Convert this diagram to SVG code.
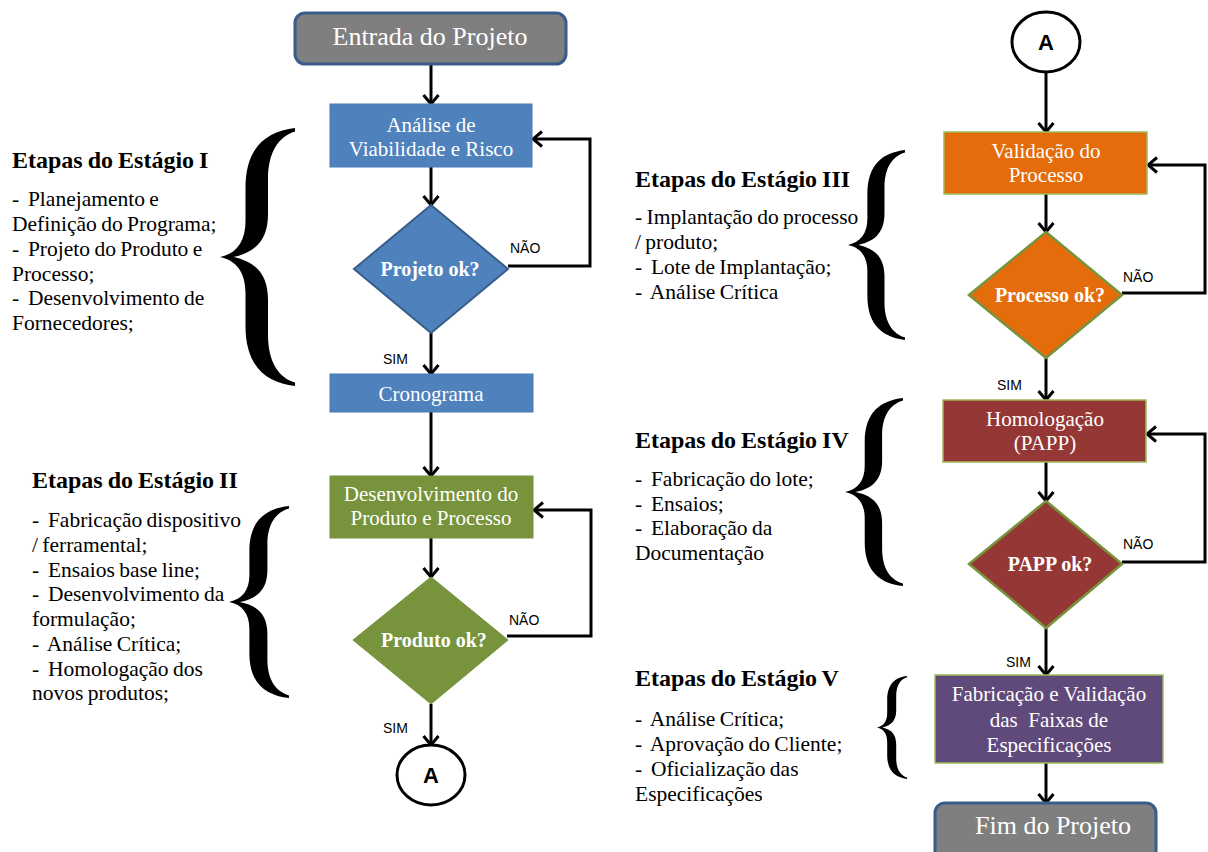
<svg xmlns="http://www.w3.org/2000/svg" width="1208" height="852" viewBox="0 0 1208 852">
  <defs>
    <style>
      .serif { font-family: "Liberation Serif", "Times New Roman", serif; }
      .sans { font-family: "Liberation Sans", Arial, sans-serif; }
      .boxtxt { font-family: "Liberation Serif", "Times New Roman", serif; font-size: 21px; fill: #ffffff; text-anchor: middle; }
      .dtxt { font-family: "Liberation Serif", "Times New Roman", serif; font-size: 20px; font-weight: bold; fill: #ffffff; text-anchor: middle; }
      .term { fill: #7f7f7f; stroke: #385d8a; stroke-width: 3; }
      .termtxt { font-family: "Liberation Serif", "Times New Roman", serif; font-size: 26px; fill: #ffffff; text-anchor: middle; }
      .blue { fill: #4f81bd; stroke: #4a7ab4; stroke-width: 1; }
      .bluedia { fill: #4f81bd; stroke: #385d8a; stroke-width: 2; }
      .green { fill: #77933c; stroke: #77933c; stroke-width: 1; }
      .orange { fill: #e46c0a; stroke: #9bbb59; stroke-width: 1.5; }
      .orangedia { fill: #e46c0a; stroke: #77933c; stroke-width: 2.5; }
      .red { fill: #953735; stroke: #9bbb59; stroke-width: 1.5; }
      .reddia { fill: #953735; stroke: #77933c; stroke-width: 2.5; }
      .purple { fill: #604a7b; stroke: #9bbb59; stroke-width: 1.5; }
      .conn { fill: #ffffff; stroke: #000000; stroke-width: 3; }
      .conntxt { font-family: "Liberation Sans", Arial, sans-serif; font-size: 22px; font-weight: bold; fill: #000000; text-anchor: middle; }
      .edge { fill: none; stroke: #000000; stroke-width: 3; }
      .lbl { font-family: "Liberation Sans", Arial, sans-serif; font-size: 14px; fill: #000000; }
      .title { font-family: "Liberation Serif", "Times New Roman", serif; font-size: 24px; font-weight: bold; fill: #000000; word-spacing: -1px; }
      .item { font-family: "Liberation Serif", "Times New Roman", serif; font-size: 21.5px; fill: #000000; word-spacing: -1px; }
      .brace { fill: #000000; }
    </style>
    <marker id="arrow" viewBox="0 0 12 18" refX="10.5" refY="9" markerWidth="12" markerHeight="18" markerUnits="userSpaceOnUse" orient="auto">
      <path d="M1.5,1.5 L10.5,9 L1.5,16.5" fill="none" stroke="#000000" stroke-width="3"/>
    </marker>
    <!-- curly brace outline, 100 x 300 unit box, point at the left middle -->
    <path id="bracePath" d="M100,0 C62,4 34,22 34,70 L34,108 C34,132 22,146 0,150 C22,154 34,168 34,192 L34,230 C34,278 62,296 100,300 L100,296 C78,290 64,272 64,240 L64,200 C64,172 50,156 18,150 C50,144 64,128 64,100 L64,60 C64,28 78,10 100,4 Z"/>
  </defs>

  <!-- connectors -->
  <g id="connectors">
    <line class="edge" x1="431" y1="64" x2="431" y2="104" marker-end="url(#arrow)"/>
    <line class="edge" x1="431" y1="167" x2="431" y2="205" marker-end="url(#arrow)"/>
    <polyline class="edge" points="508,266 590,266 590,139 533,139" marker-end="url(#arrow)"/>
    <line class="edge" x1="431" y1="333" x2="431" y2="374" marker-end="url(#arrow)"/>
    <line class="edge" x1="431" y1="412" x2="431" y2="476" marker-end="url(#arrow)"/>
    <line class="edge" x1="431" y1="538" x2="431" y2="577" marker-end="url(#arrow)"/>
    <polyline class="edge" points="507,636 591,636 591,510 534,510" marker-end="url(#arrow)"/>
    <line class="edge" x1="431" y1="704" x2="431" y2="745" marker-end="url(#arrow)"/>

    <line class="edge" x1="1046" y1="72" x2="1046" y2="132" marker-end="url(#arrow)"/>
    <line class="edge" x1="1046" y1="194" x2="1046" y2="232" marker-end="url(#arrow)"/>
    <polyline class="edge" points="1122,293 1205,293 1205,165 1148,165" marker-end="url(#arrow)"/>
    <line class="edge" x1="1046" y1="358" x2="1046" y2="400" marker-end="url(#arrow)"/>
    <line class="edge" x1="1046" y1="462" x2="1046" y2="501" marker-end="url(#arrow)"/>
    <polyline class="edge" points="1122,562 1205,562 1205,434 1147,434" marker-end="url(#arrow)"/>
    <line class="edge" x1="1046" y1="628" x2="1046" y2="675" marker-end="url(#arrow)"/>
    <line class="edge" x1="1046" y1="763" x2="1046" y2="803" marker-end="url(#arrow)"/>

    <text class="lbl" x="510" y="253">NÃO</text>
    <text class="lbl" x="383" y="364">SIM</text>
    <text class="lbl" x="509" y="625">NÃO</text>
    <text class="lbl" x="383" y="733">SIM</text>
    <text class="lbl" x="1123" y="282">NÃO</text>
    <text class="lbl" x="997" y="390">SIM</text>
    <text class="lbl" x="1123" y="549">NÃO</text>
    <text class="lbl" x="1006" y="667">SIM</text>
  </g>

  <!-- left column -->
  <g id="entrada">
    <rect class="term" x="295" y="13" width="271" height="51" rx="10"/>
    <text class="termtxt" x="430" y="45">Entrada do Projeto</text>
  </g>
  <g id="analise">
    <rect class="blue" x="330" y="104" width="202" height="63"/>
    <text class="boxtxt" x="431" y="132">Análise de</text>
    <text class="boxtxt" x="431" y="156">Viabilidade e Risco</text>
  </g>
  <g id="projeto-ok">
    <polygon class="bluedia" points="431,205 508,269 431,333 354,269"/>
    <text class="dtxt" x="430" y="276">Projeto ok?</text>
  </g>
  <g id="cronograma">
    <rect class="blue" x="330" y="374" width="203" height="38"/>
    <text class="boxtxt" x="431" y="401">Cronograma</text>
  </g>
  <g id="desenvolvimento">
    <rect class="green" x="330" y="476" width="203" height="62"/>
    <text class="boxtxt" x="431" y="501">Desenvolvimento do</text>
    <text class="boxtxt" x="431" y="525">Produto e Processo</text>
  </g>
  <g id="produto-ok">
    <polygon class="green" points="431,577 508,640 431,704 353,640"/>
    <text class="dtxt" x="434" y="647">Produto ok?</text>
  </g>
  <g id="conector-a-saida">
    <ellipse class="conn" cx="431" cy="775" rx="34" ry="30"/>
    <text class="conntxt" x="431" y="783">A</text>
  </g>

  <!-- right column -->
  <g id="conector-a-entrada">
    <ellipse class="conn" cx="1046" cy="42" rx="34" ry="30"/>
    <text class="conntxt" x="1046" y="50">A</text>
  </g>
  <g id="validacao">
    <rect class="orange" x="944" y="132" width="203" height="62"/>
    <text class="boxtxt" x="1046" y="158">Validação do</text>
    <text class="boxtxt" x="1046" y="182">Processo</text>
  </g>
  <g id="processo-ok">
    <polygon class="orangedia" points="1046,232 1122,295 1046,358 969,295"/>
    <text class="dtxt" x="1050" y="302">Processo ok?</text>
  </g>
  <g id="homologacao">
    <rect class="red" x="943" y="400" width="203" height="62"/>
    <text class="boxtxt" x="1045" y="426">Homologação</text>
    <text class="boxtxt" x="1045" y="450">(PAPP)</text>
  </g>
  <g id="papp-ok">
    <polygon class="reddia" points="1046,501 1122,564 1046,628 969,564"/>
    <text class="dtxt" x="1050" y="571">PAPP ok?</text>
  </g>
  <g id="fabricacao">
    <rect class="purple" x="935" y="675" width="228" height="88"/>
    <text class="boxtxt" x="1049" y="701">Fabricação e Validação</text>
    <text class="boxtxt" x="1049" y="727" xml:space="preserve">das  Faixas de</text>
    <text class="boxtxt" x="1049" y="752">Especificações</text>
  </g>
  <g id="fim">
    <rect class="term" x="935" y="803" width="221" height="60" rx="10"/>
    <text class="termtxt" x="1053" y="834">Fim do Projeto</text>
  </g>

  <!-- stage notes with braces -->
  <g id="estagio-1">
    <text class="title" x="12" y="168">Etapas do Estágio I</text>
    <text class="item" x="12" y="206" xml:space="preserve">-  Planejamento e</text>
    <text class="item" x="12" y="231">Definição do Programa;</text>
    <text class="item" x="12" y="256" xml:space="preserve">-  Projeto do Produto e</text>
    <text class="item" x="12" y="281">Processo;</text>
    <text class="item" x="12" y="305" xml:space="preserve">-  Desenvolvimento de</text>
    <text class="item" x="12" y="330">Fornecedores;</text>
    <use href="#bracePath" class="brace" transform="translate(220,128) scale(0.75,0.86)"/>
  </g>
  <g id="estagio-2">
    <text class="title" x="32" y="488">Etapas do Estágio II</text>
    <text class="item" x="32" y="527" xml:space="preserve">-  Fabricação dispositivo</text>
    <text class="item" x="32" y="552">/ ferramental;</text>
    <text class="item" x="32" y="577" xml:space="preserve">-  Ensaios base line;</text>
    <text class="item" x="32" y="601" xml:space="preserve">-  Desenvolvimento da</text>
    <text class="item" x="32" y="626">formulação;</text>
    <text class="item" x="32" y="651" xml:space="preserve">-  Análise Crítica;</text>
    <text class="item" x="32" y="676" xml:space="preserve">-  Homologação dos</text>
    <text class="item" x="32" y="700">novos produtos;</text>
    <use href="#bracePath" class="brace" transform="translate(229,506) scale(0.6,0.64)"/>
  </g>
  <g id="estagio-3">
    <text class="title" x="635" y="187">Etapas do Estágio III</text>
    <text class="item" x="635" y="224">- Implantação do processo</text>
    <text class="item" x="635" y="249">/ produto;</text>
    <text class="item" x="635" y="274" xml:space="preserve">-  Lote de Implantação;</text>
    <text class="item" x="635" y="299" xml:space="preserve">-  Análise Crítica</text>
    <use href="#bracePath" class="brace" transform="translate(848,150) scale(0.57,0.633)"/>
  </g>
  <g id="estagio-4">
    <text class="title" x="635" y="448">Etapas do Estágio IV</text>
    <text class="item" x="635" y="486" xml:space="preserve">-  Fabricação do lote;</text>
    <text class="item" x="635" y="511" xml:space="preserve">-  Ensaios;</text>
    <text class="item" x="635" y="535" xml:space="preserve">-  Elaboração da</text>
    <text class="item" x="635" y="560">Documentação</text>
    <use href="#bracePath" class="brace" transform="translate(845,398) scale(0.58,0.627)"/>
  </g>
  <g id="estagio-5">
    <text class="title" x="635" y="686">Etapas do Estágio V</text>
    <text class="item" x="635" y="726" xml:space="preserve">-  Análise Crítica;</text>
    <text class="item" x="635" y="751" xml:space="preserve">-  Aprovação do Cliente;</text>
    <text class="item" x="635" y="776" xml:space="preserve">-  Oficialização das</text>
    <text class="item" x="635" y="801">Especificações</text>
    <use href="#bracePath" class="brace" transform="translate(877,676) scale(0.3,0.343)"/>
  </g>
</svg>
